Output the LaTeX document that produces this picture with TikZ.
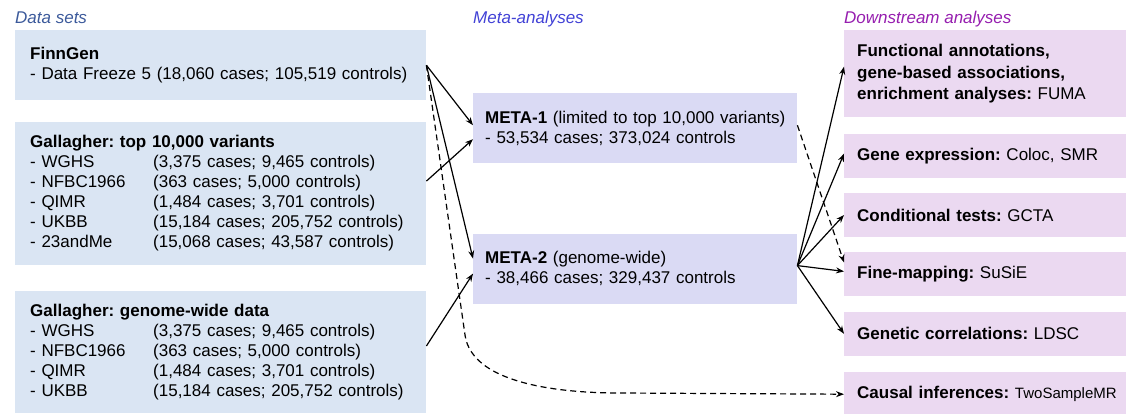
\documentclass[tikz,border=0pt]{standalone}
\usepackage{fontspec}
\setmainfont{Liberation Sans}
\usetikzlibrary{arrows.meta,positioning}

\definecolor{dataFill}{RGB}{218,229,243}
\definecolor{metaFill}{RGB}{218,218,244}
\definecolor{downFill}{RGB}{235,217,241}
\definecolor{dataHead}{RGB}{60,90,155}
\definecolor{metaHead}{RGB}{66,66,214}
\definecolor{downHead}{RGB}{150,30,175}

\newcommand{\cohort}[2]{\makebox[123pt][l]{- #1}#2}
\frenchspacing

\begin{document}
\begin{tikzpicture}[
  x=1pt,y=-1pt,
  font=\fontsize{17}{20}\selectfont,
  dataset/.style={fill=dataFill,text width=381pt,inner xsep=15pt,inner ysep=0pt,align=left},
  meta/.style={fill=metaFill,text width=300pt,minimum height=70pt,inner xsep=12pt,inner ysep=0pt,align=left},
  downstream/.style={fill=downFill,text width=256pt,inner xsep=13pt,inner ysep=0pt,minimum height=44pt,align=left},
  heading/.style={font=\fontsize{17}{20}\selectfont\itshape,anchor=base west,inner sep=0pt},
  link/.style={-{Stealth[length=8pt,width=6pt]},line width=1.2pt},
  weak/.style={link,dash pattern=on 6pt off 4pt}
]
  \useasboundingbox (0,0) rectangle (1126,413);

  \node[heading,text=dataHead] (hdata) at (15,23) {Data sets};
  \node[heading,text=metaHead] (hmeta) at (473,23) {Meta-analyses};
  \node[heading,text=downHead] (hdown) at (844,23) {Downstream analyses};

  \node[dataset,minimum height=70pt,anchor=north west] (fg) at (15,30)
    {\textbf{FinnGen}\\- Data Freeze 5 (18,060 cases; 105,519 controls)};
  \node[dataset,minimum height=143pt,below=21pt of fg] (gt)
    {\textbf{Gallagher: top 10,000 variants}\\
     \cohort{WGHS}{(3,375 cases; 9,465 controls)}\\
     \cohort{NFBC1966}{(363 cases; 5,000 controls)}\\
     \cohort{QIMR}{(1,484 cases; 3,701 controls)}\\
     \cohort{UKBB}{(15,184 cases; 205,752 controls)}\\
     \cohort{23andMe}{(15,068 cases; 43,587 controls)}};
  \node[dataset,minimum height=122pt,below=26pt of gt] (gw)
    {\textbf{Gallagher: genome-wide data}\\
     \cohort{WGHS}{(3,375 cases; 9,465 controls)}\\
     \cohort{NFBC1966}{(363 cases; 5,000 controls)}\\
     \cohort{QIMR}{(1,484 cases; 3,701 controls)}\\
     \cohort{UKBB}{(15,184 cases; 205,752 controls)}};

  \node[meta,anchor=north west] (m1) at (473,93)
    {\mbox{\textbf{META-1} (limited to top 10,000 variants)}\\- 53,534 cases; 373,024 controls};
  \node[meta,below=70pt of m1] (m2)
    {\textbf{META-2} (genome-wide)\\- 38,466 cases; 329,437 controls};

  \node[downstream,minimum height=87pt,font=\fontsize{17}{21.5}\selectfont,anchor=north west] (fuma) at (844,30)
    {\textbf{Functional annotations,}\\\textbf{gene-based associations,}\\\textbf{enrichment analyses:} FUMA};
  \node[downstream,below=16pt of fuma] (expr) {\textbf{Gene expression:} Coloc, SMR};
  \node[downstream,below=15pt of expr] (cond) {\textbf{Conditional tests:} GCTA};
  \node[downstream,below=15pt of cond] (fine) {\textbf{Fine-mapping:} SuSiE};
  \node[downstream,below=15pt of fine] (corr) {\textbf{Genetic correlations:} LDSC};
  \node[downstream,below=16pt of corr] (caus)
    {\mbox{\textbf{Causal inferences:} {\fontsize{15}{20}\selectfont TwoSampleMR}}};

  \draw[link] (fg.east) -- ([yshift=3pt]m1.west);
  \draw[link] (fg.east) -- ([yshift=10pt]m2.west);
  \draw[link] ([yshift=12pt]gt.east) -- ([yshift=-11pt]m1.west);
  \draw[link] ([yshift=6pt]gw.east) -- ([yshift=-5pt]m2.west);

  \coordinate (bend) at (465,335);
  \coordinate (flat) at (620,393);
  \draw[weak] (fg.east) -- (bend) to[out=-82,in=180,looseness=0.8] (flat) -- (caus.west);

  \draw[weak] ([yshift=3pt]m1.east) -- ([yshift=12pt]fine.west);
  \foreach \t/\s in {fuma/7,expr/2,cond/0,fine/3,corr/0}
    \draw[link] ([yshift=3pt]m2.east) -- ([yshift=\s pt]\t.west);
\end{tikzpicture}
\end{document}
